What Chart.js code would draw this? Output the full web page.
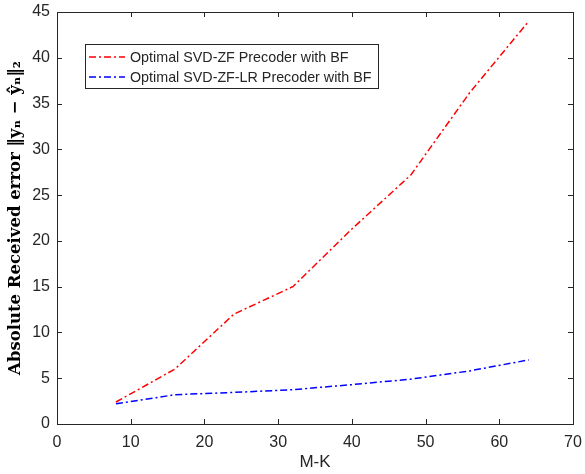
<!DOCTYPE html>
<html>
<head>
<meta charset="utf-8">
<script src="https://cdn.jsdelivr.net/npm/chart.js@4.4.1/dist/chart.umd.min.js"></script>
<style>
body { margin: 0; background: #fff; }
#wrap { width: 585px; height: 474px; position: relative; }
</style>
</head>
<body>
<div id="wrap"><canvas id="chart"></canvas></div>
<script>
// data
const mk = [8, 16, 24, 32, 40, 48, 56, 64];
const zfErr = [2.4, 6.0, 12.0, 15.0, 21.3, 27.2, 36.2, 44.0];
const lrErr = [2.2, 3.2, 3.45, 3.75, 4.3, 4.9, 5.8, 7.0];
const seriesNames = ["Optimal SVD-ZF Precoder with BF", "Optimal SVD-ZF-LR Precoder with BF"];
const xTicks = [0, 10, 20, 30, 40, 50, 60, 70];
const yTicks = [0, 5, 10, 15, 20, 25, 30, 35, 40, 45];

const axisColor = "#262626";
const sans = "'Liberation Sans', Arial, sans-serif";
const dashDot = [7, 3, 2, 3];

// box round the plot with inward ticks on all four sides (MATLAB style)
const boxPlugin = {
    id: "matlabBox",
    afterDraw(chart) {
        const { ctx, chartArea: a, scales } = chart;
        const tl = 5;
        ctx.save();
        ctx.strokeStyle = axisColor;
        ctx.lineWidth = 1;
        ctx.setLineDash([]);
        ctx.strokeRect(Math.round(a.left) + 0.5, Math.round(a.top) + 0.5,
            Math.round(a.right - a.left), Math.round(a.bottom - a.top));
        ctx.beginPath();
        xTicks.forEach(v => {
            const px = Math.round(scales.x.getPixelForValue(v)) + 0.5;
            ctx.moveTo(px, a.bottom); ctx.lineTo(px, a.bottom - tl);
            ctx.moveTo(px, a.top); ctx.lineTo(px, a.top + tl);
        });
        yTicks.forEach(v => {
            const py = Math.round(scales.y.getPixelForValue(v)) + 0.5;
            ctx.moveTo(a.left, py); ctx.lineTo(a.left + tl, py);
            ctx.moveTo(a.right, py); ctx.lineTo(a.right - tl, py);
        });
        ctx.stroke();
        ctx.restore();
    }
};

// legend box inside the plot, upper left
const legendPlugin = {
    id: "boxLegend",
    afterDraw(chart) {
        const { ctx, chartArea: a } = chart;
        const left = a.left + 28, top = a.top + 32;
        const w = 293, h = 44;
        ctx.save();
        ctx.fillStyle = "#fff";
        ctx.fillRect(left, top, w, h);
        ctx.strokeStyle = axisColor;
        ctx.lineWidth = 1;
        ctx.setLineDash([]);
        ctx.strokeRect(left + 0.5, top + 0.5, w, h);
        ctx.font = "14.3px " + sans;
        ctx.textBaseline = "middle";
        chart.data.datasets.forEach((ds, i) => {
            const yy = top + 13 + i * 20;
            ctx.strokeStyle = ds.borderColor;
            ctx.lineWidth = ds.borderWidth;
            ctx.setLineDash(ds.borderDash);
            ctx.beginPath();
            ctx.moveTo(left + 4, yy);
            ctx.lineTo(left + 40, yy);
            ctx.stroke();
            ctx.fillStyle = axisColor;
            ctx.fillText(ds.label, left + 45, yy + 1);
        });
        ctx.restore();
    }
};

new Chart(document.getElementById("chart"), {
    type: "line",
    data: {
        datasets: [
            {
                label: seriesNames[0],
                data: mk.map((m, i) => ({ x: m, y: zfErr[i] })),
                borderColor: "#ff0000",
                borderWidth: 1.5,
                borderDash: dashDot,
                pointRadius: 0,
                tension: 0
            },
            {
                label: seriesNames[1],
                data: mk.map((m, i) => ({ x: m, y: lrErr[i] })),
                borderColor: "#0000ff",
                borderWidth: 1.5,
                borderDash: dashDot,
                pointRadius: 0,
                tension: 0
            }
        ]
    },
    options: {
        responsive: true,
        maintainAspectRatio: false,
        animation: false,
        layout: { padding: { top: 12, right: 12, left: 0, bottom: 0 } },
        plugins: {
            legend: { display: false },
            tooltip: { enabled: false }
        },
        scales: {
            x: {
                type: "linear",
                min: 0,
                max: 70,
                afterBuildTicks: s => { s.ticks = xTicks.map(v => ({ value: v })); },
                afterFit: s => { s.height = 50; s.paddingLeft = 0; s.paddingRight = 0; },
                grid: { display: false, drawTicks: false },
                border: { display: false },
                ticks: {
                    color: axisColor,
                    padding: 9,
                    maxRotation: 0,
                    font: { family: sans, size: 16 }
                },
                title: {
                    display: true,
                    text: "M-K",
                    color: axisColor,
                    padding: { top: 0, bottom: 1 },
                    font: { family: sans, size: 17 }
                }
            },
            y: {
                type: "linear",
                min: 0,
                max: 45,
                afterBuildTicks: s => { s.ticks = yTicks.map(v => ({ value: v })); },
                afterFit: s => { s.width = 57; s.paddingTop = 0; s.paddingBottom = 0; },
                grid: { display: false, drawTicks: false },
                border: { display: false },
                ticks: {
                    color: axisColor,
                    padding: 7,
                    font: { family: sans, size: 16 }
                },
                title: {
                    display: true,
                    text: "Absolute Received error \u2016y\u2099 \u2212 y\u0302\u2099\u2016\u2082",
                    color: "#000",
                    padding: { top: 6, bottom: 0 },
                    font: { family: "'DejaVu Serif', 'Liberation Serif', serif", size: 16.5, weight: "bold" }
                }
            }
        }
    },
    plugins: [boxPlugin, legendPlugin]
});
</script>
</body>
</html>
